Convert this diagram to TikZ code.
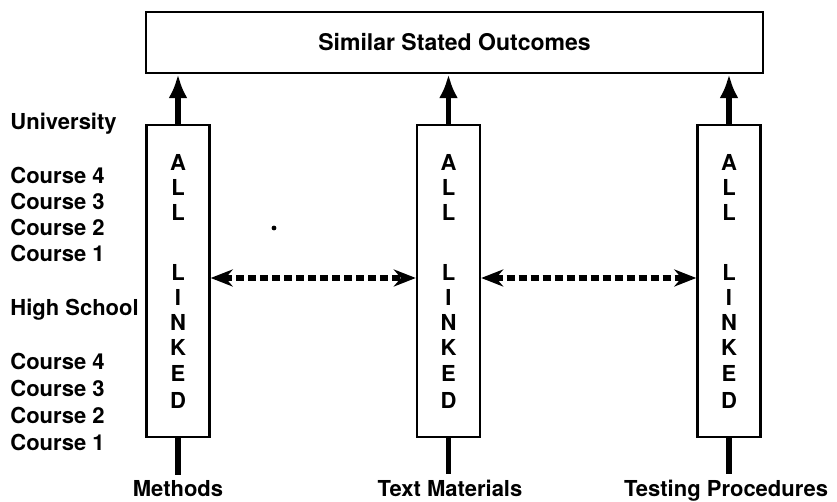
\documentclass[tikz,border=0pt]{standalone}
\usepackage{fontspec}
\setmainfont{TeX Gyre Heros}
\usetikzlibrary{arrows.meta,positioning}

\begin{document}
\begin{tikzpicture}[x=0.5pt,y=-0.5pt,
    font=\fontsize{11}{13}\selectfont\bfseries,
    col/.style={draw, line width=1.2pt, minimum width=31.5pt, minimum height=156pt, inner sep=0pt},
    up/.style={line width=2.8pt, -{Latex[length=12pt,width=9.5pt]}},
    stem/.style={line width=2.8pt},
    link/.style={line width=2.6pt, dash pattern=on 4pt off 2pt,
        {Stealth[length=11pt,width=8.5pt]}-{Stealth[length=11pt,width=8.5pt]}},
    lvl/.style={anchor=base west, inner sep=0pt},
    foot/.style={anchor=base, inner sep=3pt}]
    \useasboundingbox (0,0) rectangle (837,502);
    %%Top box
    \node[draw, line width=1.2pt, minimum width=308.5pt, minimum height=30.5pt,
        font=\fontsize{11.5}{13}\selectfont\bfseries] (out) at (454.5,42.5) {Similar Stated Outcomes};
    %%Columns
    \node[col] (m) at (178,281) {};
    \node[col] (t) at (448.5,281) {};
    \node[col] (p) at (729,281) {};
    \foreach \c in {m,t,p}
        \foreach \ch/\yy [count=\i] in {A/162,L/187,L/212,L/272,I/297,N/322,K/347,E/373,D/400}
            \path (\c.center) ++(0,\yy-281) node[inner sep=0pt] (\c-\i) {\ch};
    %%Levels
    \foreach \txt/\yy [count=\i] in {University/122,Course 4/176,Course 3/202,Course 2/228,Course 1/254,
        High School/308,Course 4/362,Course 3/389,Course 2/416,Course 1/443}
        \node[lvl] (lv-\i) at (10,\yy+8) {\txt};
    %%Arrows up
    \foreach \c in {m,t,p}
        \draw[up] (\c.north) -- (\c.north |- out.south);
    %%Links
    \coordinate (lk) at (0,278);
    \draw[link] (m.east |- lk) -- (t.west |- lk);
    \draw[link] (t.east |- lk) -- (p.west |- lk);
    %%Bottom labels
    \node[foot] (ml) at (178,497) {Methods};
    \node[foot] (tl) at (450,497) {Text Materials};
    \node[foot] (pl) at (726,497) {Testing Procedures};
    \draw[stem] (m.south) -- (m.south |- ml.north);
    \draw[stem] (t.south) -- (t.south |- tl.north);
    \draw[stem] (p.south) -- (p.south |- pl.north);
    \fill (274,228) circle (1.2pt);
\end{tikzpicture}
\end{document}
